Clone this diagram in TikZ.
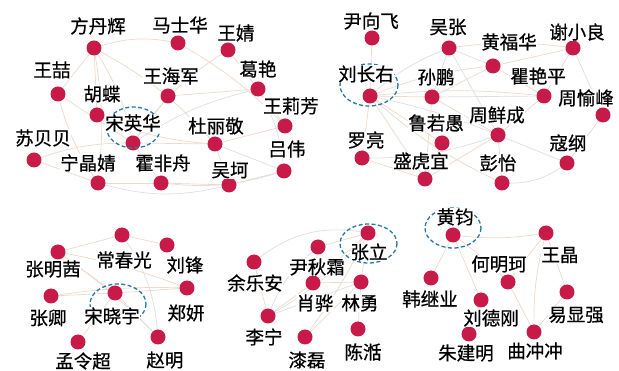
\documentclass[tikz,border=0pt]{standalone}
\usepackage{fontspec}
\newfontfamily\cjk[FakeBold=0.6]{Noto Sans CJK SC}
\definecolor{dotred}{RGB}{200,26,72}
\definecolor{edgeA}{RGB}{238,216,200}
\definecolor{edgeB}{RGB}{222,222,222}
\definecolor{dashblue}{RGB}{40,120,165}
\begin{document}
\begin{tikzpicture}[x=1pt,y=-1pt,
  dot/.style={circle,fill=dotred,minimum size=15pt,inner sep=0pt},
  lab/.style={font=\cjk\fontsize{18.5}{20}\selectfont,fill=white,inner sep=0.6pt,text=black},
  ea/.style={draw=edgeA,line width=0.7pt},
  eb/.style={draw=edgeB,line width=0.7pt},
  hl/.style={draw=dashblue,dashed,dash pattern=on 4pt off 2.5pt,line width=1.3pt}]
\useasboundingbox (0,0) rectangle (619,371);
% ---- node positions: group 1
\coordinate (fdh) at (94,48);
\coordinate (msh) at (178,43);
\coordinate (wj) at (228,50);
\coordinate (wz) at (58,94);
\coordinate (whj) at (168,96);
\coordinate (gy) at (258,89);
\coordinate (hd) at (97,115);
\coordinate (wlf) at (285,126);
\coordinate (syh) at (133,143);
\coordinate (dlj) at (215,144);
\coordinate (sbb) at (34,160);
\coordinate (lw) at (284,171);
\coordinate (njj) at (98,183);
\coordinate (hfz) at (161,183);
\coordinate (wk) at (229,185);
% group 2
\coordinate (yxf) at (372,38);
\coordinate (wzh) at (449,48);
\coordinate (hfh) at (493,66);
\coordinate (xxl) at (573,48);
\coordinate (lcy) at (370,96);
\coordinate (sp) at (432,97);
\coordinate (qyp) at (544,96);
\coordinate (zyf) at (603,115);
\coordinate (lry) at (442,143);
\coordinate (zxc) at (498,135);
\coordinate (ll) at (362,158);
\coordinate (shy) at (425,179);
\coordinate (kg) at (567,163);
\coordinate (py) at (502,183);
% group 3
\coordinate (zmq) at (58,252);
\coordinate (ccg) at (122,235);
\coordinate (lf) at (167,245);
\coordinate (zq) at (51,296);
\coordinate (sxy) at (115,293);
\coordinate (zy) at (187,288);
\coordinate (mlc) at (78,342);
\coordinate (zm) at (158,337);
% group 4
\coordinate (zl) at (368,233);
\coordinate (yqs) at (318,247);
\coordinate (yla) at (254,262);
\coordinate (xh) at (313,283);
\coordinate (ly) at (361,282);
\coordinate (ln) at (268,316);
\coordinate (ql) at (305,337);
\coordinate (ct) at (358,329);
% group 5
\coordinate (hj) at (453,235);
\coordinate (wjing) at (546,233);
\coordinate (hmk) at (508,282);
\coordinate (hjy) at (431,278);
\coordinate (yxq) at (567,292);
\coordinate (ldg) at (481,300);
\coordinate (zjm) at (469,334);
\coordinate (qcc) at (534,332);
% ---- edges
\draw[ea] (fdh) -- (wz);
\draw[ea] (fdh) -- (hd);
\draw[ea] (fdh) to[bend left=10] (syh);
\draw[ea] (fdh) to[bend left=15] (msh);
\draw[ea] (fdh) to[bend left=8] (njj);
\draw[ea] (fdh) to[bend left=10] (dlj);
\draw[ea] (wz) -- (syh);
\draw[ea] (wz) to[bend right=10] (njj);
\draw[ea] (sbb) -- (njj);
\draw[ea] (sbb) to[bend left=10] (syh);
\draw[ea] (syh) -- (dlj);
\draw[ea] (syh) -- (hfz);
\draw[ea] (syh) -- (whj);
\draw[eb] (syh) to[bend left=10] (gy);
\draw[ea] (syh) to[bend left=12] (wj);
\draw[ea] (whj) -- (gy);
\draw[ea] (gy) -- (wlf);
\draw[eb] (gy) to[bend left=12] (lw);
\draw[ea] (gy) -- (wj);
\draw[ea] (dlj) -- (wlf);
\draw[ea] (dlj) -- (wk);
\draw[eb] (dlj) -- (lw);
\draw[ea] (hfz) -- (wk);
\draw[ea] (wk) -- (lw);
\draw[ea] (njj) -- (hfz);
\draw[eb] (njj) to[bend right=15] (wk);
\draw[ea] (hd) to[bend right=10] (dlj);
\draw[eb] (hfz) to[bend right=12] (lw);
\draw[ea] (msh) to[bend left=8] (wlf);
% group 2
\draw[ea] (yxf) -- (lcy);
\draw[ea] (lcy) -- (sp);
\draw[eb] (lcy) to[bend left=10] (wzh);
\draw[ea] (lcy) to[bend left=8] (hfh);
\draw[ea] (lcy) -- (lry);
\draw[ea] (lcy) -- (ll);
\draw[ea] (lcy) -- (shy);
\draw[eb] (lcy) to[bend left=5] (zxc);
\draw[ea] (lcy) to[bend right=8] (py);
\draw[ea] (lcy) to[bend left=6] (qyp);
\draw[ea] (sp) -- (wzh);
\draw[ea] (sp) -- (hfh);
\draw[eb] (sp) -- (qyp);
\draw[ea] (sp) -- (shy);
\draw[ea] (sp) -- (zxc);
\draw[eb] (wzh) -- (hfh);
\draw[ea] (wzh) to[bend left=8] (xxl);
\draw[eb] (wzh) -- (zxc);
\draw[ea] (hfh) -- (xxl);
\draw[ea] (hfh) -- (qyp);
\draw[eb] (xxl) -- (zyf);
\draw[ea] (xxl) -- (qyp);
\draw[ea] (qyp) -- (zxc);
\draw[eb] (zxc) -- (kg);
\draw[ea] (zxc) -- (shy);
\draw[ea] (zxc) -- (py);
\draw[ea] (kg) -- (zyf);
\draw[eb] (kg) to[bend left=20] (py);
\draw[ea] (ll) -- (shy);
\draw[ea] (shy) -- (lry);
\draw[eb] (ll) to[bend right=10] (zxc);
% group 3
\draw[ea] (zmq) -- (ccg);
\draw[ea] (zmq) -- (sxy);
\draw[ea] (zmq) to[bend left=5] (zm);
\draw[eb] (ccg) to[bend left=15] (zm);
\draw[ea] (ccg) -- (lf);
\draw[ea] (zq) -- (sxy);
\draw[ea] (sxy) -- (zm);
\draw[ea] (sxy) -- (zy);
\draw[ea] (mlc) -- (sxy);
\draw[ea] (zmq) to[bend left=5] (zy);
\draw[ea] (zq) to[bend left=5] (zy);
% group 4
\draw[eb] (zl) to[bend right=25] (yla);
\draw[ea] (zl) -- (yqs);
\draw[ea] (zl) -- (xh);
\draw[ea] (zl) -- (ly);
\draw[eb] (zl) to[bend left=10] (ln);
\draw[ea] (zl) to[bend left=5] (ql);
\draw[ea] (yla) -- (ln);
\draw[ea] (ln) -- (xh);
\draw[eb] (ln) -- (ly);
\draw[ea] (xh) -- (ly);
\draw[ea] (ql) -- (ly);
\draw[ea] (ct) -- (ly);
\draw[ea] (yqs) -- (xh);
\draw[eb] (yqs) to[bend right=15] (ln);
% group 5
\draw[ea] (hj) to[bend right=8] (wjing);
\draw[ea] (hj) -- (ldg);
\draw[ea] (hj) -- (hjy);
\draw[ea] (hj) to[bend left=5] (hmk);
\draw[ea] (wjing) -- (hmk);
\draw[ea] (wjing) to[bend right=8] (qcc);
\draw[ea] (wjing) -- (yxq);
\draw[ea] (hmk) -- (qcc);
\draw[ea] (qcc) -- (yxq);
\draw[ea] (zjm) -- (ldg);
% ---- dots above edges
\foreach \n in {fdh,msh,wj,wz,whj,gy,hd,wlf,syh,dlj,sbb,lw,njj,hfz,wk,
  yxf,wzh,hfh,xxl,lcy,sp,qyp,zyf,lry,zxc,ll,shy,kg,py,
  zmq,ccg,lf,zq,sxy,zy,mlc,zm,zl,yqs,yla,xh,ly,ln,ql,ct,
  hj,wjing,hmk,hjy,yxq,ldg,zjm,qcc}
  \node[dot] (d-\n) at (\n) {};
% ---- highlight ellipses
\draw[hl] (133.5,127.5) ellipse [x radius=27, y radius=20.5];
\draw[hl] (369,85) ellipse [x radius=29, y radius=21];
\draw[hl] (118,304) ellipse [x radius=28, y radius=20];
\draw[hl] (368.5,243.5) ellipse [x radius=28.5, y radius=19.5];
\draw[hl] (453,228) ellipse [x radius=28, y radius=20];
% ---- labels
\node[lab] (l-fdh) at (98,26) {方丹辉};
\node[lab] (l-msh) at (180,25) {马士华};
\node[lab] (l-wj) at (236,33) {王婧};
\node[lab] (l-wz) at (52,70) {王喆};
\node[lab] (l-whj) at (171,76) {王海军};
\node[lab] (l-gy) at (258,69) {葛艳};
\node[lab] (l-hd) at (102,94) {胡蝶};
\node[lab] (l-wlf) at (291,106) {王莉芳};
\node[lab] (l-syh) at (133,123) {宋英华};
\node[lab] (l-dlj) at (216,126) {杜丽敬};
\node[lab] (l-sbb) at (43,138) {苏贝贝};
\node[lab] (l-lw) at (287,149) {吕伟};
\node[lab] (l-njj) at (88,163) {宁晶婧};
\node[lab] (l-hfz) at (163,163) {霍非舟};
\node[lab] (l-wk) at (230,170) {吴坷};
\node[lab] (l-yxf) at (371,21) {尹向飞};
\node[lab] (l-wzh) at (448,27) {吴张};
\node[lab] (l-hfh) at (509,42) {黄福华};
\node[lab] (l-xxl) at (577,32) {谢小良};
\node[lab] (l-lcy) at (366,74) {刘长右};
\node[lab] (l-sp) at (436,77) {孙鹏};
\node[lab] (l-qyp) at (538,76) {瞿艳平};
\node[lab] (l-zyf) at (586,98) {周愉峰};
\node[lab] (l-lry) at (436,123) {鲁若愚};
\node[lab] (l-zxc) at (497,115) {周鲜成};
\node[lab] (l-ll) at (366,140) {罗亮};
\node[lab] (l-shy) at (421,161) {盛虎宜};
\node[lab] (l-kg) at (568,143) {寇纲};
\node[lab] (l-py) at (498,163) {彭怡};
\node[lab] (l-zmq) at (53,269) {张明茜};
\node[lab] (l-ccg) at (124,260) {常春光};
\node[lab] (l-lf) at (185,265) {刘锋};
\node[lab] (l-zq) at (48,318) {张卿};
\node[lab] (l-sxy) at (112,316) {宋晓宇};
\node[lab] (l-zy) at (186,313) {郑妍};
\node[lab] (l-mlc) at (83,361) {孟令超};
\node[lab] (l-zm) at (165,360) {赵明};
\node[lab] (l-zl) at (369,252) {张立};
\node[lab] (l-yqs) at (317,267) {尹秋霜};
\node[lab] (l-yla) at (255,283) {余乐安};
\node[lab] (l-xh) at (315,303) {肖骅};
\node[lab] (l-ly) at (360,303) {林勇};
\node[lab] (l-ln) at (264,337) {李宁};
\node[lab] (l-ql) at (307,360) {漆磊};
\node[lab] (l-ct) at (363,352) {陈湉};
\node[lab] (l-hj) at (455,217) {黄钧};
\node[lab] (l-wjing) at (560,255) {王晶};
\node[lab] (l-hmk) at (499,264) {何明珂};
\node[lab] (l-hjy) at (430,299) {韩继业};
\node[lab] (l-yxq) at (576,315) {易显强};
\node[lab] (l-ldg) at (491,318) {刘德刚};
\node[lab] (l-zjm) at (466,353) {朱建明};
\node[lab] (l-qcc) at (535,351) {曲冲冲};
\end{tikzpicture}
\end{document}
